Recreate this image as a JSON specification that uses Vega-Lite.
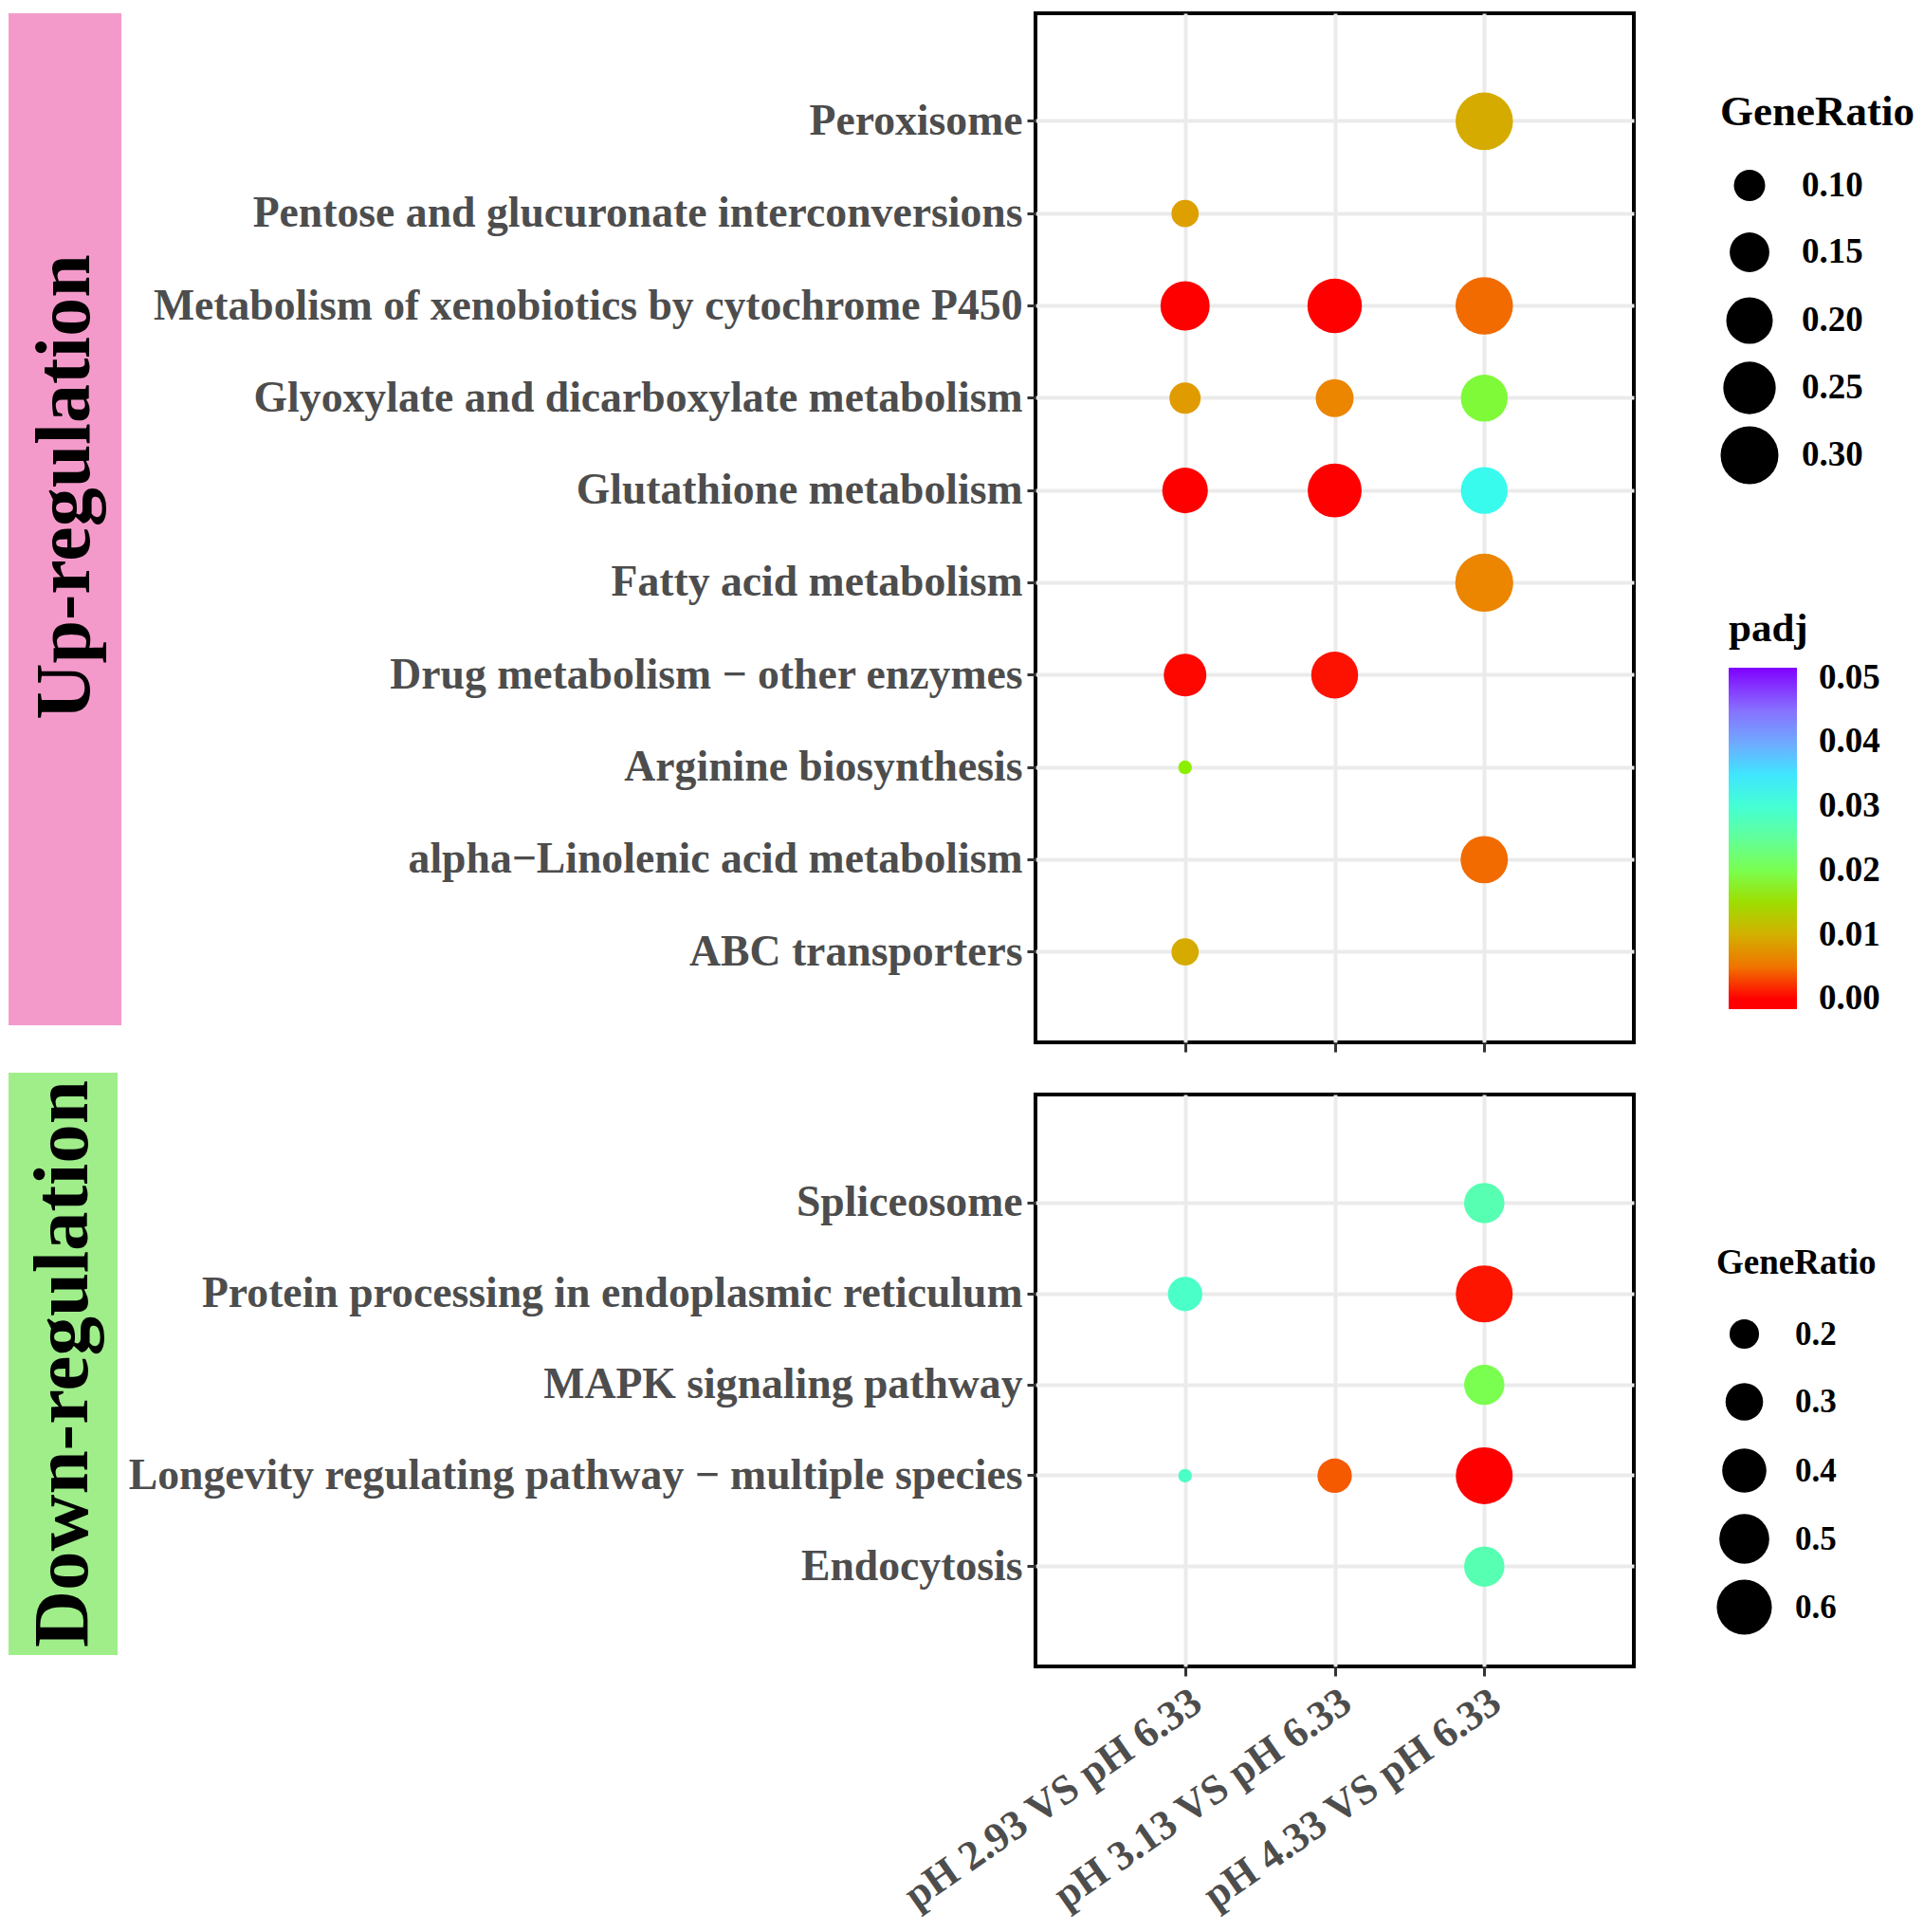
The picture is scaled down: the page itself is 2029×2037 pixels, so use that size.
{
  "$schema": "https://vega.github.io/schema/vega-lite/v6.json",
  "background": "white",
  "padding": {"left": 9, "top": 12, "right": 0, "bottom": 0},
  "datasets": {
    "up": [
      {"pathway": "Peroxisome", "group": "pH 4.33 VS pH 6.33", "GeneRatio": 0.296, "padj": 0.0095},
      {"pathway": "Pentose and glucuronate interconversions", "group": "pH 2.93 VS pH 6.33", "GeneRatio": 0.080, "padj": 0.0085},
      {"pathway": "Metabolism of xenobiotics by cytochrome P450", "group": "pH 2.93 VS pH 6.33", "GeneRatio": 0.222, "padj": 0.0001},
      {"pathway": "Metabolism of xenobiotics by cytochrome P450", "group": "pH 3.13 VS pH 6.33", "GeneRatio": 0.268, "padj": 0.0001},
      {"pathway": "Metabolism of xenobiotics by cytochrome P450", "group": "pH 4.33 VS pH 6.33", "GeneRatio": 0.296, "padj": 0.0045},
      {"pathway": "Glyoxylate and dicarboxylate metabolism", "group": "pH 2.93 VS pH 6.33", "GeneRatio": 0.100, "padj": 0.008},
      {"pathway": "Glyoxylate and dicarboxylate metabolism", "group": "pH 3.13 VS pH 6.33", "GeneRatio": 0.139, "padj": 0.006},
      {"pathway": "Glyoxylate and dicarboxylate metabolism", "group": "pH 4.33 VS pH 6.33", "GeneRatio": 0.203, "padj": 0.019},
      {"pathway": "Glutathione metabolism", "group": "pH 2.93 VS pH 6.33", "GeneRatio": 0.193, "padj": 0.0003},
      {"pathway": "Glutathione metabolism", "group": "pH 3.13 VS pH 6.33", "GeneRatio": 0.263, "padj": 0.0001},
      {"pathway": "Glutathione metabolism", "group": "pH 4.33 VS pH 6.33", "GeneRatio": 0.203, "padj": 0.032},
      {"pathway": "Fatty acid metabolism", "group": "pH 4.33 VS pH 6.33", "GeneRatio": 0.302, "padj": 0.006},
      {"pathway": "Drug metabolism − other enzymes", "group": "pH 2.93 VS pH 6.33", "GeneRatio": 0.171, "padj": 0.0011},
      {"pathway": "Drug metabolism − other enzymes", "group": "pH 3.13 VS pH 6.33", "GeneRatio": 0.203, "padj": 0.0014},
      {"pathway": "Arginine biosynthesis", "group": "pH 2.93 VS pH 6.33", "GeneRatio": 0.033, "padj": 0.0165},
      {"pathway": "alpha−Linolenic acid metabolism", "group": "pH 4.33 VS pH 6.33", "GeneRatio": 0.207, "padj": 0.0045},
      {"pathway": "ABC transporters", "group": "pH 2.93 VS pH 6.33", "GeneRatio": 0.080, "padj": 0.0095}
    ],
    "down": [
      {"pathway": "Spliceosome", "group": "pH 4.33 VS pH 6.33", "GeneRatio": 0.339, "padj": 0.027},
      {"pathway": "Protein processing in endoplasmic reticulum", "group": "pH 2.93 VS pH 6.33", "GeneRatio": 0.258, "padj": 0.029},
      {"pathway": "Protein processing in endoplasmic reticulum", "group": "pH 4.33 VS pH 6.33", "GeneRatio": 0.637, "padj": 0.0015},
      {"pathway": "MAPK signaling pathway", "group": "pH 4.33 VS pH 6.33", "GeneRatio": 0.339, "padj": 0.020},
      {"pathway": "Longevity regulating pathway − multiple species", "group": "pH 2.93 VS pH 6.33", "GeneRatio": 0.074, "padj": 0.029},
      {"pathway": "Longevity regulating pathway − multiple species", "group": "pH 3.13 VS pH 6.33", "GeneRatio": 0.258, "padj": 0.0035},
      {"pathway": "Longevity regulating pathway − multiple species", "group": "pH 4.33 VS pH 6.33", "GeneRatio": 0.637, "padj": 0.0001},
      {"pathway": "Endocytosis", "group": "pH 4.33 VS pH 6.33", "GeneRatio": 0.339, "padj": 0.027}
    ]
  },
  "hconcat": [
    {
      "vconcat": [
        {
          "width": 119,
          "height": 1067,
          "view": {"fill": "#F49ACB", "stroke": null},
          "data": {"values": [{"label": "Up-regulation"}]},
          "mark": {"type": "text", "angle": 270, "font": "Liberation Serif", "fontWeight": "bold", "fontSize": 82, "color": "#000000", "align": "center", "baseline": "middle", "dx": 34},
          "encoding": {"text": {"field": "label", "type": "nominal"}}
        },
        {
          "width": 115,
          "height": 614,
          "view": {"fill": "#9FEE8A", "stroke": null},
          "data": {"values": [{"label": "Down-regulation"}]},
          "mark": {"type": "text", "angle": 270, "font": "Liberation Serif", "fontWeight": "bold", "fontSize": 83, "color": "#000000", "align": "center", "baseline": "middle"},
          "encoding": {"text": {"field": "label", "type": "nominal"}}
        }
      ],
      "spacing": 50
    },
    {
      "vconcat": [
        {
          "width": 631,
          "height": 1085,
          "data": {"name": "up"},
          "mark": {"type": "circle", "opacity": 1},
          "encoding": {
            "x": {"field": "group", "type": "nominal",
                  "scale": {"type": "point", "padding": 1, "domain": ["pH 2.93 VS pH 6.33", "pH 3.13 VS pH 6.33", "pH 4.33 VS pH 6.33"]},
                  "axis": {"title": null, "labels": false, "tickSize": 10}},
            "y": {"field": "pathway", "type": "nominal",
                  "scale": {"type": "band", "paddingInner": 0, "paddingOuter": 0.575, "align": 0.583, "domain": ["Peroxisome", "Pentose and glucuronate interconversions", "Metabolism of xenobiotics by cytochrome P450", "Glyoxylate and dicarboxylate metabolism", "Glutathione metabolism", "Fatty acid metabolism", "Drug metabolism − other enzymes", "Arginine biosynthesis", "alpha−Linolenic acid metabolism", "ABC transporters"]},
                  "axis": {"title": null, "bandPosition": 0.5}},
            "size": {"field": "GeneRatio", "type": "quantitative",
                     "scale": {"domain": [0.03, 0.31], "range": [168, 3853], "zero": false},
                     "legend": {"title": "GeneRatio", "values": [0.1, 0.15, 0.2, 0.25, 0.3], "format": ".2f",
                                "orient": "none", "legendX": 722, "legendY": 82,
                                "titleFontSize": 45, "labelFontSize": 37, "titlePadding": 36, "titleLimit": 500,
                                "rowPadding": 6, "gridAlign": "all", "labelOffset": 24,
                                "symbolType": "circle", "symbolFillColor": "#000000", "symbolStrokeWidth": 0,
                                "encode": {"symbols": {"update": {"fill": {"value": "#000000"}, "fillOpacity": {"value": 1}, "strokeWidth": {"value": 0}}}}}},
            "color": {"field": "padj", "type": "quantitative",
                      "scale": {"domain": [-0.0016, 0.0009, 0.0035, 0.006, 0.0085, 0.011, 0.0135, 0.0165, 0.02, 0.025, 0.03, 0.0335, 0.037, 0.04, 0.045, 0.0516],
                                "range": ["#FF0000", "#FF0000", "#F55A00", "#EC8500", "#DDA000", "#CCBB00", "#B0CC00", "#8CEE00", "#7AFF50", "#62FF9A", "#44FFD4", "#30F8FF", "#55CCFF", "#70A8FF", "#8870FF", "#8000FF"],
                                "interpolate": "rgb"},
                      "legend": {"title": "padj", "orient": "none", "legendX": 731, "legendY": 628,
                                 "direction": "vertical", "gradientLength": 360, "gradientThickness": 72,
                                 "values": [0, 0.01, 0.02, 0.03, 0.04, 0.05], "format": ".2f",
                                 "titleFontSize": 43, "labelFontSize": 37, "titlePadding": 19, "labelOffset": 23,
                                 "gradientStrokeWidth": 0}}
          }
        },
        {
          "width": 631,
          "height": 603,
          "data": {"name": "down"},
          "mark": {"type": "circle", "opacity": 1},
          "encoding": {
            "x": {"field": "group", "type": "nominal",
                  "scale": {"type": "point", "padding": 1, "domain": ["pH 2.93 VS pH 6.33", "pH 3.13 VS pH 6.33", "pH 4.33 VS pH 6.33"]},
                  "axis": {"title": null, "labelAngle": -35, "labelFontSize": 44, "labelPadding": 5, "tickSize": 10}},
            "y": {"field": "pathway", "type": "nominal",
                  "scale": {"type": "band", "paddingInner": 0, "paddingOuter": 0.647, "align": 0.537, "domain": ["Spliceosome", "Protein processing in endoplasmic reticulum", "MAPK signaling pathway", "Longevity regulating pathway − multiple species", "Endocytosis"]},
                  "axis": {"title": null, "bandPosition": 0.5}},
            "size": {"field": "GeneRatio", "type": "quantitative",
                     "scale": {"domain": [0.07, 0.64], "range": [182, 3619], "zero": false},
                     "legend": {"title": "GeneRatio", "values": [0.2, 0.3, 0.4, 0.5, 0.6], "format": ".1f",
                                "orient": "none", "legendX": 718, "legendY": 160,
                                "titleFontSize": 37, "labelFontSize": 35, "titlePadding": 38, "titleLimit": 500,
                                "rowPadding": 10, "gridAlign": "all", "labelOffset": 24,
                                "symbolType": "circle", "symbolFillColor": "#000000", "symbolStrokeWidth": 0,
                                "encode": {"symbols": {"update": {"fill": {"value": "#000000"}, "fillOpacity": {"value": 1}, "strokeWidth": {"value": 0}}}}}},
            "color": {"field": "padj", "type": "quantitative",
                      "scale": {"domain": [-0.0016, 0.0009, 0.0035, 0.006, 0.0085, 0.011, 0.0135, 0.0165, 0.02, 0.025, 0.03, 0.0335, 0.037, 0.04, 0.045, 0.0516],
                                "range": ["#FF0000", "#FF0000", "#F55A00", "#EC8500", "#DDA000", "#CCBB00", "#B0CC00", "#8CEE00", "#7AFF50", "#62FF9A", "#44FFD4", "#30F8FF", "#55CCFF", "#70A8FF", "#8870FF", "#8000FF"],
                                "interpolate": "rgb"},
                      "legend": null}
          }
        }
      ],
      "spacing": 39,
      "resolve": {
        "scale": {"x": "independent", "y": "independent", "size": "independent", "color": "independent"},
        "legend": {"size": "independent", "color": "independent"}
      }
    }
  ],
  "spacing": 5,
  "config": {
    "font": "Liberation Serif",
    "view": {"stroke": "#000000", "strokeWidth": 4},
    "axis": {
      "labelFont": "Liberation Serif",
      "labelFontWeight": "bold",
      "labelColor": "#4d4d4d",
      "labelFontSize": 45.7,
      "labelLimit": 1500,
      "labelPadding": 5,
      "domain": false,
      "tickColor": "#333333",
      "tickWidth": 3,
      "tickSize": 9,
      "grid": true,
      "gridColor": "#ebebeb",
      "gridWidth": 4
    },
    "legend": {
      "titleFont": "Liberation Serif",
      "labelFont": "Liberation Serif",
      "titleFontWeight": "bold",
      "labelFontWeight": "bold",
      "titleColor": "#000000",
      "labelColor": "#000000",
      "padding": 0,
      "labelLimit": 300
    }
  }
}
